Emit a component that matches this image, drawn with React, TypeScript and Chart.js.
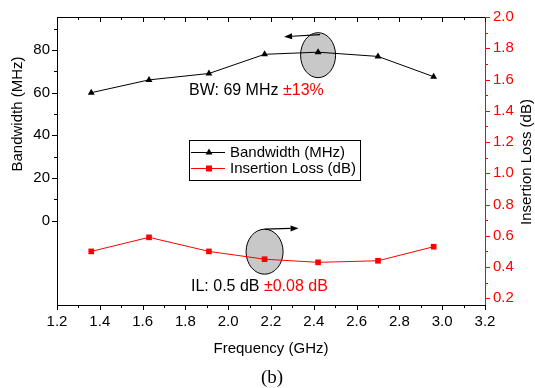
import React, { useEffect, useRef } from 'react';
import { Chart, registerables } from 'chart.js';

Chart.register(...registerables);

// ---- data ----
const frequency = [1.36, 1.63, 1.91, 2.17, 2.42, 2.70, 2.96];
const bandwidth = [60, 66, 69, 78, 79, 77, 67.5];
const insertionLoss = [0.50, 0.59, 0.50, 0.45, 0.43, 0.44, 0.53];
const seriesLabels = ['Bandwidth (MHz)', 'Insertion Loss (dB)'];
const bwNote = ['BW: 69 MHz ', '±13%'];
const ilNote = ['IL: 0.5 dB ', '±0.08 dB'];
const xTitle = 'Frequency (GHz)';
const yTitle = 'Bandwidth (MHz)';
const y1Title = 'Insertion Loss (dB)';
const caption = '(b)';

const SANS = '"Liberation Sans", Arial, sans-serif';
const RED = '#ff0000';

function drawTwoColor(ctx: CanvasRenderingContext2D, parts: string[], x: number, y: number) {
  ctx.textAlign = 'left';
  ctx.textBaseline = 'middle';
  ctx.fillStyle = '#000';
  ctx.fillText(parts[0], x, y);
  const w = ctx.measureText(parts[0]).width;
  ctx.fillStyle = RED;
  ctx.fillText(parts[1], x + w, y);
}

function arrow(ctx: CanvasRenderingContext2D, x0: number, y0: number, x1: number, y1: number) {
  const ang = Math.atan2(y1 - y0, x1 - x0);
  const hl = 8, hw = 3;
  const bx = x1 - Math.cos(ang) * hl, by = y1 - Math.sin(ang) * hl;
  ctx.strokeStyle = '#000';
  ctx.lineWidth = 1.2;
  ctx.beginPath();
  ctx.moveTo(x0, y0);
  ctx.lineTo(bx, by);
  ctx.stroke();
  ctx.fillStyle = '#000';
  ctx.beginPath();
  ctx.moveTo(x1, y1);
  ctx.lineTo(bx - Math.sin(ang) * hw, by + Math.cos(ang) * hw);
  ctx.lineTo(bx + Math.sin(ang) * hw, by - Math.cos(ang) * hw);
  ctx.closePath();
  ctx.fill();
}

function ellipse(ctx: CanvasRenderingContext2D, cx: number, cy: number, rx: number, ry: number) {
  ctx.beginPath();
  ctx.ellipse(cx, cy, rx, ry, 0, 0, Math.PI * 2);
  ctx.fillStyle = '#c8c8c8';
  ctx.fill();
  ctx.strokeStyle = '#000';
  ctx.lineWidth = 1;
  ctx.stroke();
}

const decor = {
  id: 'decor',
  beforeDatasetsDraw(chart: any) {
    const { ctx, scales } = chart;
    const xs = scales.x, yl = scales.y, yr = scales.y1;
    ctx.save();
    // ellipse around BW curve
    const bx = xs.getPixelForValue(frequency[4]);
    const by = yl.getPixelForValue(bandwidth[4]) + 3;
    ellipse(ctx, bx, by, 17.5, 22.5);
    // ellipse around IL curve
    const ix = xs.getPixelForValue(frequency[3]);
    const iy = yr.getPixelForValue(insertionLoss[3]) - 7.5;
    ellipse(ctx, ix, iy, 18.5, 22.5);
    ctx.restore();
  },
  afterDraw(chart: any) {
    const { ctx, chartArea: ca, scales } = chart;
    const xs = scales.x, yl = scales.y, yr = scales.y1;
    ctx.save();
    const crisp = (v: number) => Math.round(v) + 0.5;

    // top frame line
    ctx.strokeStyle = '#000';
    ctx.lineWidth = 1;
    ctx.beginPath();
    ctx.moveTo(ca.left, crisp(ca.top));
    ctx.lineTo(ca.right, crisp(ca.top));
    ctx.stroke();

    // x ticks (bottom outward, top inward)
    const xMaj = xs.ticks.map((t: any) => t.value);
    const xMin: number[] = [];
    for (let i = 0; i < xMaj.length - 1; i++) xMin.push((xMaj[i] + xMaj[i + 1]) / 2);
    ctx.beginPath();
    xMaj.forEach((v: number) => {
      const p = crisp(xs.getPixelForValue(v));
      ctx.moveTo(p, ca.bottom); ctx.lineTo(p, ca.bottom + 5);
      ctx.moveTo(p, ca.top); ctx.lineTo(p, ca.top + 5);
    });
    xMin.forEach((v: number) => {
      const p = crisp(xs.getPixelForValue(v));
      ctx.moveTo(p, ca.bottom); ctx.lineTo(p, ca.bottom + 3);
      ctx.moveTo(p, ca.top); ctx.lineTo(p, ca.top + 3);
    });
    ctx.stroke();

    // left ticks
    const lMaj = yl.ticks.map((t: any) => t.value).filter((v: number) => v >= 0 && v <= 80);
    ctx.beginPath();
    lMaj.forEach((v: number) => {
      const p = crisp(yl.getPixelForValue(v));
      ctx.moveTo(ca.left, p); ctx.lineTo(ca.left - 5, p);
      if (v + 10 <= yl.max) {
        const q = crisp(yl.getPixelForValue(v + 10));
        ctx.moveTo(ca.left, q); ctx.lineTo(ca.left - 3, q);
      }
    });
    ctx.stroke();

    // right ticks (red)
    const rMaj = yr.ticks.map((t: any) => t.value);
    ctx.strokeStyle = RED;
    ctx.beginPath();
    rMaj.forEach((v: number, i: number) => {
      const p = crisp(yr.getPixelForValue(v));
      ctx.moveTo(ca.right, p); ctx.lineTo(ca.right + 5, p);
      if (i < rMaj.length - 1) {
        const q = crisp(yr.getPixelForValue((v + rMaj[i + 1]) / 2));
        ctx.moveTo(ca.right, q); ctx.lineTo(ca.right + 3, q);
      }
    });
    ctx.stroke();

    // arrows
    const bx = xs.getPixelForValue(frequency[4]);
    const by = yl.getPixelForValue(bandwidth[4]) + 3;
    arrow(ctx, bx + 2, by - 20.5, bx - 34, by - 18.5);
    const ix = xs.getPixelForValue(frequency[3]);
    const iy = yr.getPixelForValue(insertionLoss[3]) - 7.5;
    arrow(ctx, ix, iy - 22.5, ix + 34, iy - 23.5);

    // annotation texts
    ctx.font = `16px ${SANS}`;
    drawTwoColor(ctx, bwNote, 189, 91);
    drawTwoColor(ctx, ilNote, 191, 287);

    // legend
    ctx.strokeStyle = '#000';
    ctx.lineWidth = 1;
    ctx.strokeRect(189.5, 140.5, 171, 40);
    const rows = [
      { y: 152, color: '#000', style: 'tri' },
      { y: 168, color: RED, style: 'rect' },
    ];
    ctx.font = `15px ${SANS}`;
    rows.forEach((r, i) => {
      ctx.strokeStyle = r.color;
      ctx.lineWidth = 1;
      ctx.beginPath();
      ctx.moveTo(191, r.y + 0.5);
      ctx.lineTo(225, r.y + 0.5);
      ctx.stroke();
      ctx.fillStyle = r.color;
      ctx.beginPath();
      if (r.style === 'tri') {
        ctx.moveTo(209, r.y - 3.5);
        ctx.lineTo(212.5, r.y + 2.5);
        ctx.lineTo(205.5, r.y + 2.5);
        ctx.closePath();
      } else {
        ctx.rect(206, r.y - 2.5, 6, 6);
      }
      ctx.fill();
      ctx.fillStyle = '#000';
      ctx.textAlign = 'left';
      ctx.textBaseline = 'middle';
      ctx.fillText(seriesLabels[i], 230, r.y + 1);
    });

    // axis titles
    ctx.fillStyle = '#000';
    ctx.font = `15px ${SANS}`;
    ctx.textAlign = 'center';
    ctx.textBaseline = 'middle';
    ctx.fillText(xTitle, 271, 349);
    ctx.save();
    ctx.translate(18, 114);
    ctx.rotate(-Math.PI / 2);
    ctx.fillText(yTitle, 0, 0);
    ctx.restore();
    ctx.save();
    ctx.translate(527, 162);
    ctx.rotate(-Math.PI / 2);
    ctx.fillText(y1Title, 0, 0);
    ctx.restore();

    ctx.font = `19px "Liberation Serif", "Times New Roman", serif`;
    ctx.fillText(caption, 272, 378);
    ctx.restore();
  },
};

export default function App() {
  const ref = useRef<HTMLCanvasElement | null>(null);
  useEffect(() => {
    if (!ref.current) return;
    const tickFont = { family: SANS, size: 15 };
    const chart = new Chart(ref.current, {
      type: 'line',
      data: {
        datasets: [
          {
            label: seriesLabels[0],
            data: frequency.map((f, i) => ({ x: f, y: bandwidth[i] })),
            yAxisID: 'y',
            borderColor: '#000',
            backgroundColor: '#000',
            borderWidth: 1,
            pointStyle: 'triangle',
            pointRadius: 4,
            pointBorderWidth: 0,
            tension: 0,
          },
          {
            label: seriesLabels[1],
            data: frequency.map((f, i) => ({ x: f, y: insertionLoss[i] })),
            yAxisID: 'y1',
            borderColor: RED,
            backgroundColor: RED,
            borderWidth: 1,
            pointStyle: 'rect',
            pointRadius: 4,
            pointBorderWidth: 0,
            tension: 0,
          },
        ],
      },
      options: {
        animation: false,
        responsive: false,
        maintainAspectRatio: false,
        layout: { padding: { top: 15, left: 0, right: 0, bottom: 0 } },
        plugins: { legend: { display: false }, tooltip: { enabled: false } },
        scales: {
          x: {
            type: 'linear',
            min: 1.2,
            max: 3.2,
            afterFit: (s: any) => { s.height = 83; },
            ticks: {
              stepSize: 0.2,
              autoSkip: false,
              maxRotation: 0,
              padding: 8,
              color: '#000',
              font: tickFont,
              callback: (v: any) => Number(v).toFixed(1),
            },
            grid: { display: true, drawOnChartArea: false, drawTicks: false },
            border: { display: true, color: '#000', width: 1 },
          },
          y: {
            type: 'linear',
            position: 'left',
            min: -39.6,
            max: 95.5,
            afterFit: (s: any) => { s.width = 57; },
            ticks: {
              stepSize: 20,
              includeBounds: false,
              padding: 7,
              color: '#000',
              font: tickFont,
              callback: (v: any) => (v >= 0 && v <= 80 ? String(v) : ''),
            },
            grid: { display: true, drawOnChartArea: false, drawTicks: false },
            border: { display: true, color: '#000', width: 1 },
          },
          y1: {
            type: 'linear',
            position: 'right',
            min: 0.157,
            max: 2.0,
            afterFit: (s: any) => { s.width = 50; },
            ticks: {
              stepSize: 0.2,
              includeBounds: false,
              padding: 8,
              color: RED,
              font: tickFont,
              callback: (v: any) => Number(v).toFixed(1),
            },
            grid: { display: true, drawOnChartArea: false, drawTicks: false },
            border: { display: true, color: RED, width: 1 },
          },
        },
      },
      plugins: [decor],
    } as any);
    return () => chart.destroy();
  }, []);
  return (
    <div style={{ position: 'absolute', left: 0, top: 0, width: 535, height: 388, background: '#fff' }}>
      <canvas ref={ref} width={535} height={388} style={{ display: 'block' }} />
    </div>
  );
}
